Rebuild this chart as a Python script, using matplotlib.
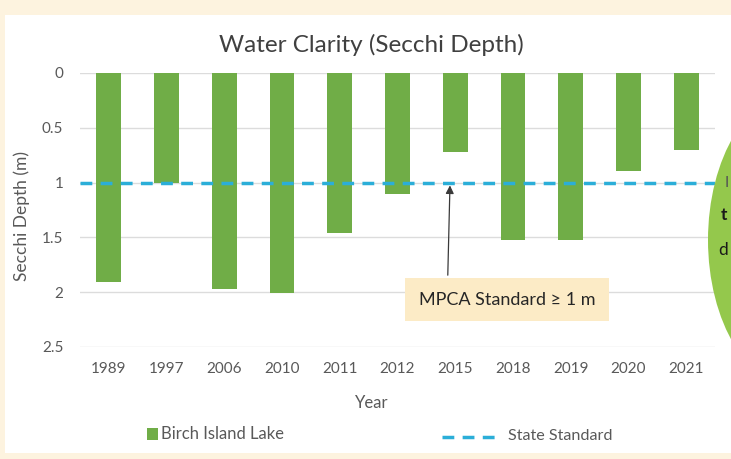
import matplotlib
matplotlib.use('Agg')
import matplotlib.pyplot as plt
from matplotlib.patches import Rectangle, Ellipse
from matplotlib.lines import Line2D

# data
years = ['1989', '1997', '2006', '2010', '2011', '2012', '2015', '2018', '2019', '2020', '2021']
depth = [1.91, 1.0, 1.97, 2.01, 1.46, 1.1, 0.72, 1.52, 1.52, 0.89, 0.7]
state_standard = 1.0
yticks = [0, 0.5, 1, 1.5, 2, 2.5]

W, H = 731, 459
plt.rcParams['font.family'] = ['Lato', 'DejaVu Sans']

fig = plt.figure(figsize=(W / 100, H / 100), dpi=100)
fig.patch.set_facecolor('#FDF3DF')

# white panel behind chart
fig.add_artist(Rectangle((5 / W, 1 - 453 / H), 1, (453 - 15) / H,
                         transform=fig.transFigure, facecolor='white',
                         edgecolor='none', zorder=0))

ax = fig.add_axes([80 / W, 1 - 347 / H, 635 / W, (347 - 73) / H])
ax.set_facecolor('none')

x = list(range(len(years)))
ax.bar(x, depth, width=0.43, color='#70AD47', zorder=2)
ax.axhline(state_standard, color='#2BAED8', lw=2.5, ls=(0, (3.4, 2.4)), zorder=3)

ax.set_ylim(2.5, 0)
ax.set_xlim(-0.5, len(years) - 0.5)
ax.set_yticks(yticks)
ax.set_yticklabels(['0', '0.5', '1', '1.5', '2', '2.5'])
ax.set_xticks(x)
ax.set_xticklabels(years)
ax.yaxis.grid(True, color='#DCDCDC', lw=1)
ax.set_axisbelow(True)
for s in ax.spines.values():
    s.set_visible(False)
ax.tick_params(length=0, colors='#595959', labelsize=11)
ax.tick_params(axis='y', pad=12)
ax.tick_params(axis='x', pad=11)

# annotation
ax.annotate('', xy=(5.91, 1.0), xytext=(5.87, 1.87),
            arrowprops=dict(arrowstyle='-|>', color='#3A3A3A', lw=0.9,
                            mutation_scale=12), zorder=4)
ax.text(6.9, 2.07, 'MPCA Standard \u2265 1 m', ha='center', va='center',
        fontsize=13, color='#262626', zorder=5,
        bbox=dict(boxstyle='square,pad=0.75', facecolor='#FCEBC6', edgecolor='none'))

fig.text(371 / W, 1 - 45 / H, 'Water Clarity (Secchi Depth)', ha='center',
         va='center', fontsize=17.5, color='#404040')
fig.text(22 / W, 1 - 216 / H, 'Secchi Depth (m)', rotation=90, ha='center',
         va='center', fontsize=12.5, color='#595959')
fig.text(372 / W, 1 - 403 / H, 'Year', ha='center', va='center',
         fontsize=12, color='#595959')

# legend
fig.add_artist(Rectangle((147 / W, 1 - 440 / H), 11 / W, 12 / H,
                         transform=fig.transFigure, facecolor='#70AD47',
                         edgecolor='none'))
fig.text(161 / W, 1 - 434 / H, 'Birch Island Lake', ha='left', va='center',
         fontsize=12, color='#595959')
fig.add_artist(Line2D([442 / W, 495 / W], [1 - 437 / H, 1 - 437 / H],
                      transform=fig.transFigure, color='#2BAED8', lw=2.5,
                      ls=(0, (3.4, 2.4))))
fig.text(508 / W, 1 - 436 / H, 'State Standard', ha='left', va='center',
         fontsize=11.6, color='#595959')

# green bubble cut off at the right edge
fig.add_artist(Ellipse((800 / W, 1 - 240 / H), 184 / W, 300 / H,
                       transform=fig.transFigure, facecolor='#94C84C',
                       edgecolor='none', zorder=6))
fig.text(725 / W, 1 - 183 / H, 'I', ha='left', va='center', fontsize=11,
         color='#555555', zorder=7)
fig.text(721 / W, 1 - 215 / H, 't', ha='left', va='center', fontsize=12.5,
         fontweight='bold', color='#1A1A1A', zorder=7)
fig.text(718 / W, 1 - 250 / H, 'd', ha='left', va='center', fontsize=12.5,
         color='#1A1A1A', zorder=7)

fig.savefig('out.png', dpi=100)
